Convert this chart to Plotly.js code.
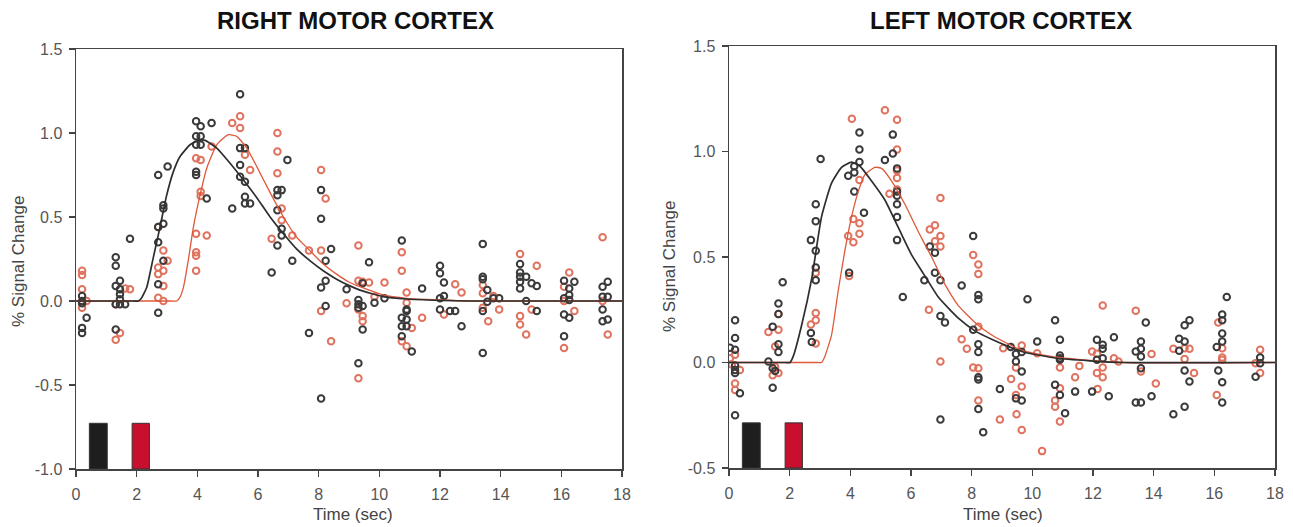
<!DOCTYPE html>
<html>
<head>
<meta charset="utf-8">
<script src="https://cdn.plot.ly/plotly-3.0.1.min.js"></script>
<style>html,body{margin:0;padding:0;background:#fff;}#chart{width:1293px;height:527px;}</style>
</head>
<body>
<div id="chart"></div>
<script>
// ---------- DATA ----------
const panelTitles = ["RIGHT MOTOR CORTEX", "LEFT MOTOR CORTEX"];
const xTitle = "Time (sec)";
const yTitle = "% Signal Change";
const xTicks = [0, 2, 4, 6, 8, 10, 12, 14, 16, 18];
const yTicksRight = [-1.0, -0.5, 0.0, 0.5, 1.0, 1.5];
const yTicksLeft = [-0.5, 0.0, 0.5, 1.0, 1.5];

// Stimulus bars (seconds)
const stimStart = [0.44, 1.85];
const stimEnd = [1.03, 2.42];
const stimTopR = -0.728;
const stimTopL = -0.286;

// RIGHT MOTOR CORTEX – black data points
const rcBlackX = [0.2,0.2,0.2,0.2,0.2,0.35, 1.31,1.31,1.31,1.31,1.31,1.45,1.45,1.45,1.45,1.45,1.62,1.78,
 2.71,2.71,2.71,2.71,2.71,2.88,2.88,2.88,2.88,3.02, 3.96,3.96,3.96,3.96,3.96,4.11,4.11,4.11,4.47,4.31,
 5.41,5.41,5.41,5.41,5.57,5.57,5.57,5.57,5.74,5.15, 6.97,6.64,6.64,6.64,6.64,6.78,6.78,6.78,7.13,6.45,
 8.08,8.08,8.08,8.08,8.41,8.23,8.23,8.23,7.68,8.92,
 9.31,9.31,9.31,9.31,9.45,9.45,9.45,9.66,9.84,10.17,
 10.74,10.74,10.74,10.74,10.9,10.9,10.9,10.9,11.07,11.41,
 12.0,12.0,12.0,12.0,12.13,12.13,12.33,12.5,12.71,
 13.41,13.41,13.41,13.41,13.41,13.56,13.56,13.76,13.95,
 14.64,14.64,14.64,14.64,14.64,14.84,14.84,15.02,15.19,15.19,
 16.09,16.09,16.09,16.09,16.43,16.26,16.26,16.26,16.26,
 17.36,17.36,17.36,17.36,17.53,17.53,17.53];
const rcBlackY = [0.03,0.0,-0.014,-0.16,-0.19,-0.10, 0.26,0.21,0.09,-0.02,-0.17,0.12,0.07,0.04,0.01,-0.02,-0.02,0.37,
 0.75,0.44,0.35,0.10,-0.07,0.57,0.55,0.46,0.24,0.80, 1.07,0.98,0.93,0.77,0.75,1.04,0.98,0.93,1.06,0.61,
 1.23,0.91,0.81,0.74,0.91,0.71,0.62,0.58,0.58,0.55, 0.84,0.66,0.63,0.54,0.33,0.66,0.43,0.39,0.24,0.17,
 0.66,0.49,0.08,-0.58,0.31,0.24,0.12,-0.03,-0.19,0.07,
 0.006,-0.02,-0.04,-0.37,-0.03,-0.17,0.105,0.23,-0.01,0.016,
 0.36,-0.10,-0.15,-0.21,-0.05,-0.06,-0.11,-0.15,-0.30,0.075,
 0.21,0.165,0.016,-0.05,0.11,0.03,-0.06,-0.06,-0.15,
 0.34,0.145,0.13,-0.06,-0.31,0.065,-0.004,0.016,0.016,
 0.22,0.17,0.145,0.115,0.075,0.145,0.0,0.105,0.09,-0.06,
 0.12,0.016,-0.08,-0.21,0.115,0.075,0.036,0.006,-0.10,
 0.085,0.026,-0.05,-0.12,0.115,0.026,-0.11];

// RIGHT MOTOR CORTEX – red data points
const rcRedX = [0.2,0.2,0.2,0.2,0.35, 1.31,1.31,1.45,1.62,1.78,
 2.71,2.71,2.71,2.71,2.88,2.88,2.88,2.88,3.02, 3.96,3.96,3.96,3.96,3.96,4.11,4.11,4.11,4.47,4.31,
 5.15,5.41,5.41,5.57,5.74, 6.64,6.64,6.64,6.78,6.78,6.45,7.13, 8.08,8.08,8.08,8.23,7.68,8.41,8.92,
 9.31,9.31,9.31,9.31,9.45,9.45,9.45,9.66,9.84,10.17,
 10.74,10.74,10.74,10.9,10.9,10.9,11.07,11.41, 12.13,12.5,12.71,
 13.41,13.41,13.41,13.59,13.76,13.95, 14.64,14.64,14.64,15.19,14.84,15.02,
 16.26,16.09,16.09,16.09,16.43, 17.36,17.36,17.53];
const rcRedY = [0.18,0.155,0.07,-0.04,0.0, -0.02,-0.23,-0.19,0.075,0.07,
 0.44,0.20,0.16,0.02,0.30,0.18,0.09,0.0,0.24, 0.85,0.40,0.29,0.27,0.18,0.84,0.65,0.625,0.92,0.39,
 1.06,1.10,1.03,0.87,0.78, 1.00,0.89,0.76,0.55,0.48,0.37,0.39, 0.78,0.30,-0.06,0.61,0.30,-0.24,-0.014,
 0.33,0.12,-0.05,-0.46,0.115,-0.09,-0.12,0.11,0.026,0.11,
 0.29,0.18,-0.24,0.05,-0.01,-0.27,-0.16,-0.10, -0.08,0.10,0.05,
 0.095,0.046,-0.04,-0.12,0.03,-0.05, 0.28,-0.09,-0.14,0.21,-0.20,-0.05,
 0.17,0.085,0.0,-0.28,-0.06, 0.38,0.0,-0.20];

// RIGHT MOTOR CORTEX – fitted curves
const rcBlackCurveT = [0,1.9,2.05,2.15,2.33,2.55,2.77,2.99,3.21,3.43,3.76,4.03,4.25,4.64,5.08,5.52,5.96,6.40,6.84,7.27,7.71,8.15,8.59,9.03,9.36,10.13,10.9,12.0,13.0,18];
const rcBlackCurveV = [0,0,0,0.015,0.08,0.26,0.44,0.63,0.77,0.86,0.93,0.956,0.956,0.91,0.82,0.72,0.615,0.50,0.40,0.31,0.24,0.18,0.13,0.09,0.065,0.026,0.012,0.004,0,0];
const rcRedCurveT = [0,3.15,3.32,3.42,3.54,3.70,3.87,4.09,4.31,4.64,5.02,5.30,5.63,5.96,6.40,6.84,7.27,7.71,8.15,8.59,9.03,9.36,10.13,10.9,12.0,13.0,18];
const rcRedCurveV = [0,0,0,0.02,0.08,0.24,0.44,0.63,0.79,0.93,0.99,0.98,0.91,0.80,0.645,0.50,0.38,0.30,0.22,0.16,0.11,0.085,0.036,0.016,0.006,0,0];

// LEFT MOTOR CORTEX – black data points
const lcBlackX = [0.2,0.2,0.2,0.2,0.2,0.2,0.2,0.03,0.36,
 1.3,1.44,1.44,1.44,1.52,1.63,1.63,1.63,1.63,1.77,
 2.7,2.7,2.73,2.86,2.86,2.86,2.86,2.86,3.02,
 3.96,3.93,4.13,4.13,4.13,4.3,4.3,4.3,4.45,
 5.14,5.4,5.4,5.54,5.54,5.54,5.54,5.54,5.54,5.73,
 6.44,6.62,6.79,6.79,6.97,6.97,6.97,7.12,
 7.67,8.05,8.05,8.22,8.22,8.22,8.22,8.22,8.22,8.22,8.38,8.93,
 9.29,9.46,9.46,9.46,9.65,9.65,9.65,9.84,10.16,
 10.75,10.75,10.91,10.91,10.91,10.91,10.91,11.08,11.41,
 11.97,12.13,12.13,12.32,12.32,12.32,12.52,12.69,
 13.41,13.41,13.58,13.58,13.58,13.58,13.58,13.74,13.93,
 14.84,14.84,15.02,15.02,15.02,15.02,15.18,15.18,14.65,
 16.41,16.26,16.26,16.26,16.26,16.26,16.26,16.08,16.13,
 17.51,17.51,17.36];
const lcBlackY = [0.2,0.116,0.06,-0.014,-0.035,-0.05,-0.25,0.07,-0.146,
 0.005,0.17,-0.027,-0.12,-0.04,0.23,0.28,0.087,0.05,0.38,
 0.58,0.14,0.097,0.75,0.67,0.53,0.45,0.39,0.965,
 0.425,0.885,0.90,0.93,0.81,0.95,1.01,1.09,0.71,
 0.96,1.08,0.99,0.92,0.81,0.79,0.75,0.69,0.58,0.31,
 0.39,0.55,0.52,0.425,0.39,0.22,-0.27,0.19,
 0.365,0.60,0.155,0.32,0.30,0.087,0.05,-0.07,-0.08,-0.22,-0.33,-0.125,
 0.073,0.04,0.005,-0.17,0.05,-0.043,-0.18,0.30,0.10,
 0.20,-0.106,0.108,0.033,0.02,0.013,-0.154,-0.24,-0.138,
 -0.138,0.108,0.013,0.084,0.065,0.02,-0.16,0.12,
 -0.19,0.052,-0.19,0.10,0.065,0.029,-0.027,0.19,-0.16,
 0.113,0.056,0.176,0.10,-0.038,-0.21,0.20,-0.09,-0.245,
 0.31,0.227,0.20,0.137,0.10,-0.094,-0.19,0.073,-0.038,
 0.024,-0.003,-0.067];

// LEFT MOTOR CORTEX – red data points
const lcRedX = [0.03,0.2,0.2,0.2,0.09,0.36,
 1.3,1.52,1.52,1.63,1.63,1.63,1.44,
 2.7,2.86,2.86,2.86,2.86,
 3.96,3.93,4.1,4.1,4.3,4.3,4.3,4.05,
 5.14,5.54,5.54,5.54,5.54,5.54,5.29,
 6.97,6.97,6.97,6.97,6.62,6.79,6.79,6.59,
 7.67,7.84,8.05,8.05,8.22,8.22,8.22,8.22,8.22,8.93,
 9.04,9.3,9.65,9.65,9.65,9.46,9.46,9.48,10.16,10.32,
 10.91,10.91,10.91,10.75,10.75,11.55,11.41,
 12.32,12.32,12.32,11.97,12.13,12.13,12.15,12.69,12.84,
 13.41,13.93,14.07,13.58,14.65,15.02,15.02,15.18,15.33,
 16.13,16.26,16.26,16.26,16.08,17.51,17.51,17.36];
const lcRedY = [0.02,0.037,-0.1,-0.13,-0.01,-0.035,
 0.145,0.076,-0.02,0.23,0.155,-0.05,-0.06,
 0.18,0.235,0.20,0.09,0.425,
 0.41,0.60,0.68,0.57,0.66,0.61,0.865,1.155,
 1.195,1.15,1.01,0.91,0.875,0.82,0.80,
 0.78,0.60,0.55,0.005,0.63,0.65,0.575,0.25,
 0.11,0.065,0.51,-0.024,0.465,0.42,0.17,-0.027,-0.18,-0.27,
 0.068,-0.078,0.08,-0.114,-0.32,-0.024,-0.154,-0.245,0.044,-0.42,
 -0.024,-0.122,-0.28,-0.18,-0.21,-0.016,-0.07,
 0.27,-0.024,-0.07,0.052,0.041,-0.05,-0.125,0.02,0.005,
 0.245,0.04,-0.1,-0.043,0.065,0.068,0.017,0.065,-0.05,
 0.19,0.068,0.024,0.013,-0.154,0.06,-0.05,-0.003];

// LEFT MOTOR CORTEX – fitted curves
const lcBlackCurveT = [0,1.85,2.01,2.12,2.4,2.73,3.05,3.38,3.71,4.04,4.32,4.70,5.14,5.58,6.02,6.46,6.9,7.56,8.11,8.66,9.26,9.7,10.8,11.9,13.0,18];
const lcBlackCurveV = [0,0,0,0.03,0.18,0.40,0.69,0.85,0.925,0.95,0.93,0.86,0.77,0.64,0.51,0.41,0.31,0.21,0.15,0.11,0.073,0.05,0.02,0.008,0,0];
const lcRedCurveT = [0,2.9,3.05,3.15,3.38,3.6,3.82,4.04,4.26,4.48,4.81,5.03,5.36,5.8,6.24,6.68,7.12,7.56,8.11,8.66,9.26,9.7,10.8,11.9,13.0,18];
const lcRedCurveV = [0,0,0,0.025,0.13,0.34,0.53,0.69,0.81,0.89,0.925,0.92,0.86,0.75,0.62,0.50,0.37,0.27,0.19,0.13,0.084,0.055,0.025,0.01,0,0];

// ---------- STYLE ----------
const BLACK_PT = '#3a3a3a';
const RED_PT = '#e0735f';
const BLACK_LINE = '#2e2e2e';
const RED_LINE = '#e0583a';
const FONT = 'Liberation Sans, Arial, Helvetica, sans-serif';

function pts(x, y, col, xa, ya) {
  return {type:'scatter', mode:'markers', x:x, y:y, xaxis:xa, yaxis:ya, hoverinfo:'skip',
    marker:{symbol:'circle-open', size:6.5, color:col, line:{width:2, color:col}}};
}
function curve(x, y, col, w, xa, ya) {
  return {type:'scatter', mode:'lines', x:x, y:y, xaxis:xa, yaxis:ya, hoverinfo:'skip',
    line:{color:col, width:w, shape:'spline', smoothing:0.5}};
}
function bars(top, base, xa, ya) {
  const cx = stimStart.map((s,i)=> (s+stimEnd[i])/2);
  const w = stimStart.map((s,i)=> stimEnd[i]-s);
  return {type:'bar', x:cx, y:stimStart.map(()=> top-base), base:base, width:w,
    xaxis:xa, yaxis:ya, hoverinfo:'skip',
    marker:{color:['#1e1e1e','#c8102e'], line:{color:'#333', width:1}}};
}

const data = [
  bars(stimTopR, -1.0, 'x', 'y'),
  pts(rcRedX, rcRedY, RED_PT, 'x', 'y'),
  pts(rcBlackX, rcBlackY, BLACK_PT, 'x', 'y'),
  curve(rcRedCurveT, rcRedCurveV, RED_LINE, 1.3, 'x', 'y'),
  curve(rcBlackCurveT, rcBlackCurveV, BLACK_LINE, 1.7, 'x', 'y'),
  bars(stimTopL, -0.5, 'x2', 'y2'),
  pts(lcRedX, lcRedY, RED_PT, 'x2', 'y2'),
  pts(lcBlackX, lcBlackY, BLACK_PT, 'x2', 'y2'),
  curve(lcRedCurveT, lcRedCurveV, RED_LINE, 1.3, 'x2', 'y2'),
  curve(lcBlackCurveT, lcBlackCurveV, BLACK_LINE, 1.7, 'x2', 'y2')
];

const W = 1293, H = 527;
function xax(dom, anchor) {
  return {domain:dom, anchor:anchor, range:[0,18], tickvals:xTicks, ticktext:xTicks.map(String),
    showline:true, mirror:true, linecolor:'#444', linewidth:1.5, ticks:'outside', ticklen:6,
    tickwidth:1.5, tickcolor:'#444', showgrid:false, zeroline:false, fixedrange:true,
    ticklabelstandoff:4, tickfont:{family:FONT, size:16, color:'#555'}};
}
function yax(dom, anchor, range, ticks) {
  return {domain:dom, anchor:anchor, range:range, tickvals:ticks, ticktext:ticks.map(v=>v.toFixed(1)),
    showline:true, mirror:true, linecolor:'#444', linewidth:1.5, ticks:'outside', ticklen:6,
    tickwidth:1.5, tickcolor:'#444', showgrid:false, zeroline:false, fixedrange:true,
    ticklabelstandoff:3, tickfont:{family:FONT, size:16, color:'#555'}};
}

const layout = {
  width:W, height:H, margin:{l:0, r:0, t:0, b:0}, showlegend:false,
  paper_bgcolor:'#fff', plot_bgcolor:'#fff', bargap:0,
  xaxis: xax([76/W, 622/W], 'y'),
  yaxis: yax([(H-469)/H, (H-49)/H], 'x', [-1.0, 1.5], yTicksRight),
  xaxis2: xax([729/W, 1275/W], 'y2'),
  yaxis2: yax([(H-468)/H, (H-46)/H], 'x2', [-0.5, 1.5], yTicksLeft),
  annotations: [
    {text:'<b>'+panelTitles[0]+'</b>', xref:'paper', yref:'paper', x:355/W, y:(H-20)/H, xanchor:'center', yanchor:'middle', showarrow:false, font:{family:FONT, size:24, color:'#111'}},
    {text:'<b>'+panelTitles[1]+'</b>', xref:'paper', yref:'paper', x:1001/W, y:(H-20)/H, xanchor:'center', yanchor:'middle', showarrow:false, font:{family:FONT, size:24, color:'#111'}},
    {text:xTitle, xref:'paper', yref:'paper', x:353/W, y:(H-514)/H, xanchor:'center', yanchor:'middle', showarrow:false, font:{family:FONT, size:17, color:'#444'}},
    {text:xTitle, xref:'paper', yref:'paper', x:1003/W, y:(H-514)/H, xanchor:'center', yanchor:'middle', showarrow:false, font:{family:FONT, size:17, color:'#444'}},
    {text:yTitle, xref:'paper', yref:'paper', x:18/W, y:(H-262)/H, xanchor:'center', yanchor:'middle', textangle:-90, showarrow:false, font:{family:FONT, size:17, color:'#444'}},
    {text:yTitle, xref:'paper', yref:'paper', x:669/W, y:(H-267)/H, xanchor:'center', yanchor:'middle', textangle:-90, showarrow:false, font:{family:FONT, size:17, color:'#444'}}
  ]
};

Plotly.newPlot('chart', data, layout, {staticPlot:true, displayModeBar:false});
</script>
</body>
</html>
